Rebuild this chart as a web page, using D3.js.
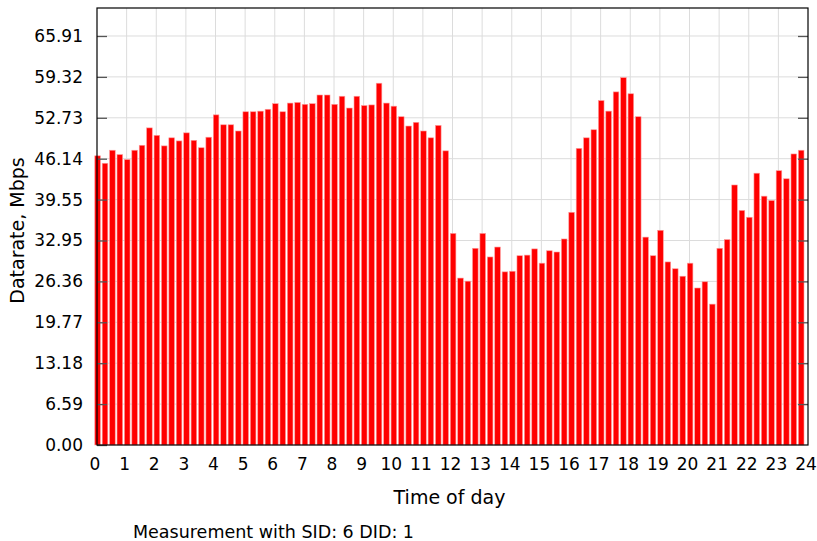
<!DOCTYPE html>
<html>
<head>
<meta charset="utf-8">
<script src="https://cdn.jsdelivr.net/npm/d3@7"></script>
<style>
  body { margin: 0; background: #fff; }
  text { font-family: "DejaVu Sans", sans-serif; fill: #000; }
</style>
</head>
<body>
<div id="chart"></div>
<script>
// datarate per 15-minute slot (Mbps)
const rates = [
  46.6, 45.4, 47.5, 46.8, 46.0, 47.5, 48.3, 51.1, 49.9, 48.2,
  49.5, 49.0, 50.3, 49.1, 47.9, 49.6, 53.2, 51.6, 51.6, 50.6,
  53.7, 53.7, 53.8, 54.1, 55.0, 53.7, 55.1, 55.2, 54.9, 55.0,
  56.4, 56.4, 54.9, 56.2, 54.3, 56.2, 54.7, 54.8, 58.3, 55.1,
  54.6, 52.9, 51.4, 52.0, 50.6, 49.5, 51.5, 47.4, 34.1, 26.9,
  26.4, 31.7, 34.1, 30.3, 31.9, 27.9, 28.0, 30.5, 30.6, 31.6,
  29.3, 31.3, 31.1, 33.2, 37.5, 47.8, 49.5, 50.8, 55.5, 53.8,
  56.9, 59.2, 56.6, 52.9, 33.5, 30.5, 34.6, 29.5, 28.4, 27.2,
  29.3, 25.3, 26.3, 22.7, 31.7, 33.1, 41.9, 37.8, 36.7, 43.8,
  40.1, 39.4, 44.2, 42.9, 46.9, 47.5
];
const slotHours = d3.range(0, 24, 0.25);   // bar start times
const yTickLabels = ["0.00", "6.59", "13.18", "19.77", "26.36", "32.95",
                     "39.55", "46.14", "52.73", "59.32", "65.91"];
const xTickLabels = d3.range(0, 25);
const yMaxTick = 65.91;
const yTop = 70.42;

const width = 817, height = 541;
const plot = {left: 97, right: 808, top: 8, bottom: 445};

const svg = d3.select("#chart").append("svg")
    .attr("width", width)
    .attr("height", height);

const x = d3.scaleLinear().domain([0, 24]).range([plot.left, plot.right]);
const y = d3.scaleLinear().domain([0, yTop]).range([plot.bottom, plot.top]);

const yTicks = yTickLabels.map((l, i) => i * yMaxTick / 10);

// grid
const grid = svg.append("g").attr("class", "grid");
grid.selectAll("line.h").data(yTicks.slice(1)).enter().append("line")
    .attr("x1", plot.left).attr("x2", plot.right)
    .attr("y1", d => y(d)).attr("y2", d => y(d))
    .attr("stroke", "#dcdcdc").attr("stroke-width", 1);
grid.selectAll("line.v").data(xTickLabels.slice(1, -1)).enter().append("line")
    .attr("x1", d => x(d)).attr("x2", d => x(d))
    .attr("y1", plot.top).attr("y2", plot.bottom)
    .attr("stroke", "#dcdcdc").attr("stroke-width", 1);

// bars
const barW = 5.6;
svg.append("g").selectAll("rect").data(rates).enter().append("rect")
    .attr("x", (d, i) => x(slotHours[i]) + 0.6 - barW / 2)
    .attr("y", d => y(d))
    .attr("width", barW)
    .attr("height", d => plot.bottom - y(d))
    .attr("fill", "#ff0000")
    .attr("stroke", "#ff9a9a")
    .attr("stroke-width", 0.6);

// y axis (left, ticks inward) + mirrored right ticks
const yAxis = d3.axisLeft(y).tickValues(yTicks)
    .tickFormat((d, i) => yTickLabels[i])
    .tickSizeInner(-10).tickSizeOuter(0).tickPadding(14);
const gy = svg.append("g").attr("transform", `translate(${plot.left},0)`).call(yAxis);
gy.select(".domain").remove();
gy.selectAll(".tick line").attr("stroke", "#555").attr("stroke-width", 1.3);
gy.selectAll(".tick text").style("font-size", "17px").style("font-family", "DejaVu Sans");

const gyr = svg.append("g").attr("transform", `translate(${plot.right},0)`)
    .call(d3.axisRight(y).tickValues(yTicks.slice(1)).tickSizeInner(-10).tickSizeOuter(0).tickFormat(""));
gyr.select(".domain").remove();
gyr.selectAll(".tick line").attr("stroke", "#555").attr("stroke-width", 1.3);

// x axis labels (drawn slightly left of the grid, as in the source)
const xAxis = d3.axisBottom(x).tickValues(xTickLabels).tickSize(0).tickPadding(13);
const gx = svg.append("g").attr("transform", `translate(-2.5,${plot.bottom})`).call(xAxis);
gx.select(".domain").remove();
gx.selectAll(".tick text").style("font-size", "17px").style("font-family", "DejaVu Sans");

// frame
svg.append("rect")
    .attr("x", plot.left).attr("y", plot.top)
    .attr("width", plot.right - plot.left).attr("height", plot.bottom - plot.top)
    .attr("fill", "none").attr("stroke", "#000").attr("stroke-width", 1.2);

// titles
svg.append("text")
    .attr("transform", `translate(24,${(plot.top + plot.bottom) / 2 + 4}) rotate(-90)`)
    .attr("text-anchor", "middle")
    .style("font-size", "19px")
    .text("Datarate, Mbps");

svg.append("text")
    .attr("x", (plot.left + plot.right) / 2 - 3).attr("y", 504)
    .attr("text-anchor", "middle")
    .style("font-size", "19px")
    .text("Time of day");

svg.append("text")
    .attr("x", 133).attr("y", 538)
    .style("font-size", "17.5px")
    .text("Measurement with SID: 6 DID: 1");
</script>
</body>
</html>
